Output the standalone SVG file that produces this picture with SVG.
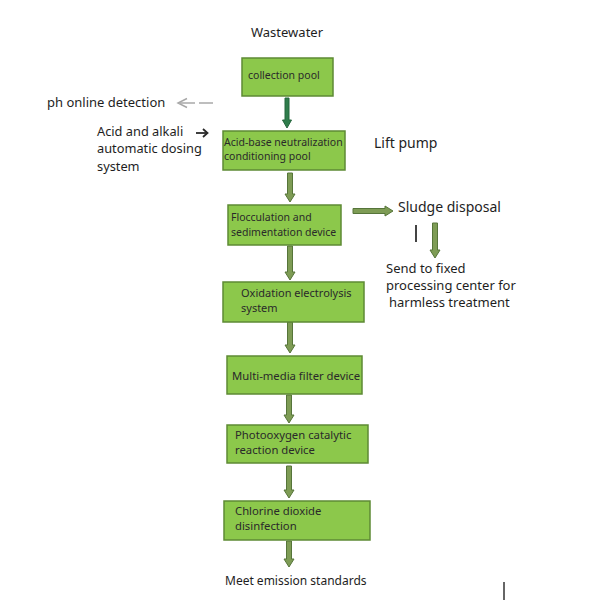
<svg xmlns="http://www.w3.org/2000/svg" width="600" height="600" viewBox="0 0 600 600">
<style>
.box{fill:#8cc84b;stroke:#5e8a34;stroke-width:1.5}
.bt{font-family:"Noto Sans","Open Sans",sans-serif;font-size:10.5px;fill:#2a2a2a}
.lt{font-family:"Noto Sans","Open Sans",sans-serif;font-size:13px;fill:#1e1e1e}
.arr{fill:#7e9c55;stroke:#56753a;stroke-width:1}
.arrd{fill:#2f7d4c;stroke:#25663d;stroke-width:1}
</style>
<rect width="600" height="600" fill="#ffffff"/>
<g id="connectors">
  <polygon class="arrd" points="285,98 289,98 289,120 291.5,120 287,128 282.5,120 285,120"/>
  <polygon class="arr" points="287.5,173 292.5,173 292.5,194 295,194 290,202 285,194 287.5,194"/>
  <polygon class="arr" points="287.5,246 292.5,246 292.5,272 295,272 290,280 285,272 287.5,272"/>
  <polygon class="arr" points="287.5,322 292.5,322 292.5,345 295,345 290,353 285,345 287.5,345"/>
  <polygon class="arr" points="286.5,395 291.5,395 291.5,415 294,415 289,423 284,415 286.5,415"/>
  <polygon class="arr" points="286.5,466 291.5,466 291.5,490 294,490 289,498 284,490 286.5,490"/>
  <polygon class="arr" points="286.5,541 291.5,541 291.5,559 294,559 289,567 284,559 286.5,559"/>
  <polygon class="arr" points="353,208.5 385,208.5 385,206 393,211 385,216 385,213.5 353,213.5"/>
  <polygon class="arr" points="432.5,223 437.5,223 437.5,250 440,250 435,258 430,250 432.5,250"/>
  <line x1="416" y1="225" x2="416" y2="242" stroke="#444" stroke-width="2"/>
  <g stroke="#a8a8a8" stroke-width="1.5" fill="none">
    <polyline points="187,98.5 178,103 187,107.5"/>
    <line x1="180" y1="103" x2="195" y2="103"/>
    <line x1="199" y1="103" x2="213" y2="103"/>
  </g>
  <g stroke="#2a2a2a" stroke-width="1.8" fill="none">
    <line x1="196" y1="133" x2="207" y2="133"/>
    <polyline points="203,129 207.5,133 203,137"/>
  </g>
  <line x1="504" y1="582" x2="504" y2="600" stroke="#333" stroke-width="1.5"/>
</g>
<text class="lt" x="251" y="37">Wastewater</text>
<text class="lt" x="47" y="107">ph online detection</text>
<g class="lt" style="font-size:12.8px">
  <text x="97" y="135.5">Acid and alkali</text>
  <text x="97" y="153">automatic dosing</text>
  <text x="97" y="170.5">system</text>
</g>
<text class="lt" x="374" y="148" style="font-size:14px">Lift pump</text>
<text class="lt" x="398" y="212" style="font-size:14px">Sludge disposal</text>
<g class="lt">
  <text x="386" y="273">Send to fixed</text>
  <text x="386" y="290">processing center for</text>
  <text x="389" y="307">harmless treatment</text>
</g>
<text class="lt" x="225" y="585" style="font-size:12px">Meet emission standards</text>
<g id="n1"><rect class="box" x="242" y="58" width="91" height="38"/><text class="bt" x="248" y="79">collection pool</text></g>
<g id="n2"><rect class="box" x="223" y="131" width="122" height="39"/><text class="bt" x="224" y="146">Acid-base neutralization</text><text class="bt" x="224" y="159.5">conditioning pool</text></g>
<g id="n3"><rect class="box" x="228" y="205" width="113" height="40"/><text class="bt" x="231" y="221">Flocculation and</text><text class="bt" x="231" y="235.5">sedimentation device</text></g>
<g id="n4"><rect class="box" x="223" y="282" width="141" height="40"/><text class="bt" x="241" y="297" style="font-size:11px">Oxidation electrolysis</text><text class="bt" x="241" y="312" style="font-size:11px">system</text></g>
<g id="n5"><rect class="box" x="227" y="356" width="135" height="38"/><text class="bt" x="232" y="380" style="font-size:11.3px">Multi-media filter device</text></g>
<g id="n6"><rect class="box" x="227" y="425" width="141" height="38"/><text class="bt" x="235" y="438.5" style="font-size:11.3px">Photooxygen catalytic</text><text class="bt" x="235" y="454" style="font-size:11.3px">reaction device</text></g>
<g id="n7"><rect class="box" x="224" y="501" width="146" height="39"/><text class="bt" x="235" y="515" style="font-size:11.3px">Chlorine dioxide</text><text class="bt" x="235" y="529.5" style="font-size:11.3px">disinfection</text></g>
</svg>
